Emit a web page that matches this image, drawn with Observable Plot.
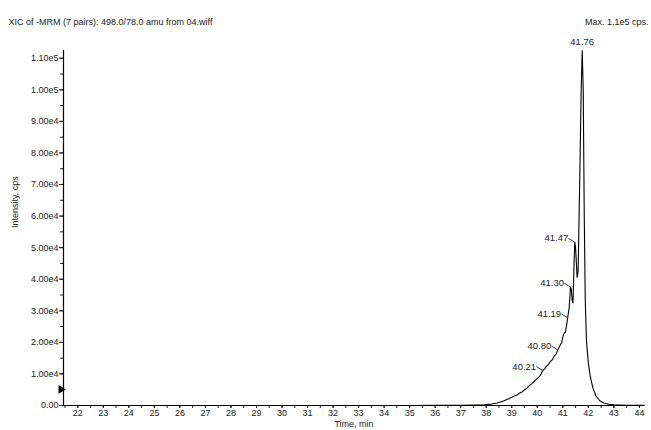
<!DOCTYPE html>
<html>
<head>
<meta charset="utf-8">
<script src="https://cdn.jsdelivr.net/npm/d3@7"></script>
<script src="https://cdn.jsdelivr.net/npm/@observablehq/plot@0.6"></script>
<style>
  html, body { margin: 0; padding: 0; background: #fff; }
  #chart svg { display: block; }
</style>
</head>
<body>
<div id="chart"></div>
<script>
// ---- data ----
const times = [21.44, 23, 25, 27, 29, 31, 33, 35, 36, 37, 37.5, 37.9, 38.2, 38.43, 38.7, 38.9, 39.08, 39.2, 39.3, 39.4, 39.5, 39.6, 39.73, 39.8, 39.9, 40.0, 40.1, 40.15, 40.21, 40.3, 40.35, 40.45, 40.5, 40.6, 40.65, 40.75, 40.8, 40.9, 40.95, 41.0, 41.05, 41.1, 41.15, 41.19, 41.25, 41.3, 41.33, 41.37, 41.4, 41.44, 41.47, 41.5, 41.56, 41.6, 41.66, 41.72, 41.76, 41.8, 41.84, 41.88, 41.93, 42.0, 42.08, 42.18, 42.3, 42.45, 42.6, 42.8, 43.0, 43.5, 44.2];
const intensity = [0, 0, 0, 0, 0, 0, 0, 20, 30, 60, 120, 220, 450, 800, 1500, 2200, 2900, 3300, 3900, 4300, 5000, 5600, 6600, 7000, 7800, 8600, 9300, 10000, 11100, 11700, 12300, 13200, 13800, 14600, 15500, 16400, 17600, 19200, 19800, 21600, 22900, 23200, 25500, 27800, 31000, 37500, 37000, 33000, 32500, 45000, 51700, 50000, 40600, 42500, 70000, 100000, 112400, 100000, 60000, 33000, 20000, 13500, 9000, 5500, 3000, 1500, 800, 400, 200, 100, 60];

const peakTimes = [41.76, 41.47, 41.30, 41.19, 40.80, 40.21];
const peakValues = [112400, 51700, 37500, 27800, 17600, 11100];
const peakLabels = ["41.76", "41.47", "41.30", "41.19", "40.80", "40.21"];

const xTickLabels = d3.range(22, 45, 1);
const xMinorTicks = d3.range(21.5, 44.01, 0.5);
const yTickLabels = d3.range(0, 110001, 10000);
const yMinorTicks = d3.range(0, 112001, 5000);
const markerLevel = [5100];

const title = "XIC of -MRM (7 pairs): 498.0/78.0 amu from 04.wiff";
const maxNote = "Max. 1.1e5 cps.";
const xLabel = "Time, min";
const yLabel = "Intensity, cps";

// ---- build ----
const xDomain = [21.44, 44.2];
const yDomain = [0, 112450];
const series = times.map((t, i) => ({t, v: intensity[i]}));
const peaks = peakTimes.map((t, i) => ({t, v: peakValues[i], label: peakLabels[i]}));
const sidePeaks = peaks.slice(1);
const topPeak = peaks.slice(0, 1);

const yFmt = d => d === 0 ? "0.00" : d.toExponential(2).replace("e+", "e");
const font = "'Liberation Sans', Arial, sans-serif";

const leader = {
  draw(context, l) { context.moveTo(0, 0); context.lineTo(0, -l); }
};

const chart = Plot.plot({
  width: 651,
  height: 430,
  marginLeft: 63,
  marginRight: 7,
  marginTop: 50,
  marginBottom: 25,
  style: {fontFamily: font, fontSize: "9px", color: "#222", background: "#fff"},
  x: {domain: xDomain, label: null},
  y: {domain: yDomain, label: null},
  marks: [
    Plot.axisX(xMinorTicks, {tickSize: 3, text: null, stroke: "#222", label: null}),
    Plot.axisX(xTickLabels, {tickSize: 3, tickPadding: 1, tickFormat: d => String(d), fill: "#222", stroke: "#222", fontSize: 9, label: null}),
    Plot.axisY(yMinorTicks, {tickSize: 3, text: null, stroke: "#222", label: null}),
    Plot.axisY(yTickLabels, {tickSize: 4, tickPadding: 1, tickFormat: yFmt, fill: "#222", stroke: "#222", fontSize: 9, label: null}),
    Plot.ruleX([xDomain[0]], {stroke: "#000", strokeWidth: 1.2}),
    Plot.ruleY([0], {stroke: "#000", strokeWidth: 1.2}),
    Plot.line(series, {x: "t", y: "v", stroke: "#000", strokeWidth: 1.1}),
    // baseline marker
    Plot.dot(markerLevel, {x: () => xDomain[0], y: d => d, symbol: "triangle", rotate: 90, r: 3.2, fill: "#000", stroke: "none", dx: -2.5}),
    // peak labels
    Plot.text(topPeak, {x: "t", y: "v", text: "label", dy: -6, lineAnchor: "bottom", fill: "#222", fontSize: 9.5}),
    Plot.vector(sidePeaks, {x: "t", y: "v", length: 7, rotate: -58, anchor: "start", shape: leader, stroke: "#222", strokeWidth: 0.8}),
    Plot.text(sidePeaks, {x: "t", y: "v", text: "label", textAnchor: "end", dx: -6.5, dy: -4, fill: "#222", fontSize: 9.5}),
    // titles & axis labels
    Plot.text([title], {frameAnchor: "top-left", dx: -55, dy: -32, textAnchor: "start", fill: "#222", fontSize: 9}),
    Plot.text([maxNote], {frameAnchor: "top-right", dx: 4, dy: -32, textAnchor: "end", fill: "#222", fontSize: 9}),
    Plot.text([xLabel], {frameAnchor: "bottom", dy: 21, fill: "#222", fontSize: 9}),
    Plot.text([yLabel], {frameAnchor: "left", dx: -48, rotate: -90, fill: "#222", fontSize: 9})
  ]
});
document.getElementById("chart").appendChild(chart);
</script>
</body>
</html>
